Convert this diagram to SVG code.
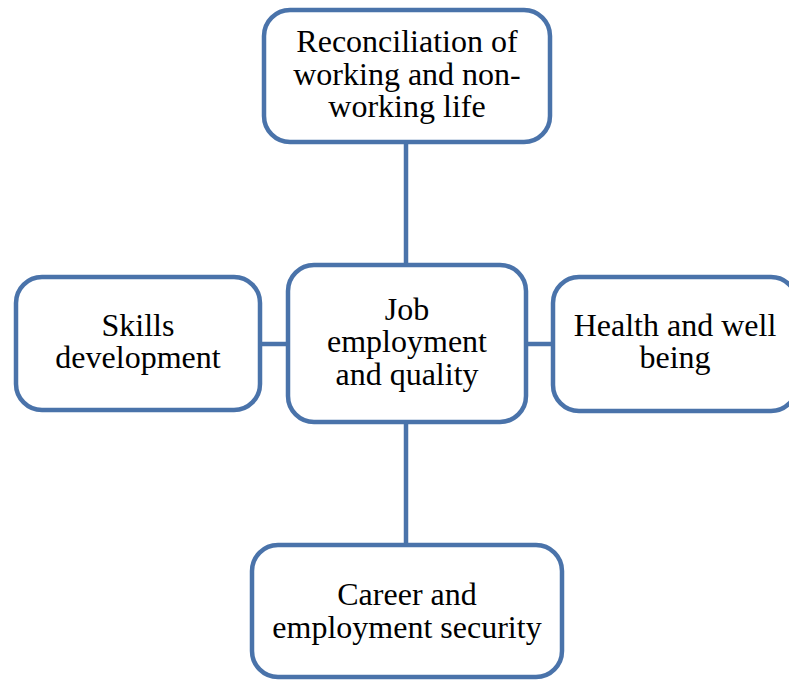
<svg xmlns="http://www.w3.org/2000/svg" width="789" height="681" viewBox="0 0 789 681">
<style>
.box{fill:#fff;stroke:#4A73AA;stroke-width:4.5}
.con{stroke:#4A73AA;stroke-width:4.5;fill:none}
text{font-family:"Liberation Serif","Times New Roman",serif;font-size:32px;fill:#000;text-anchor:middle}
</style>
<rect width="789" height="681" fill="#fff"/>
<g id="connectors">
<line class="con" x1="406" y1="142" x2="406" y2="265"/>
<line class="con" x1="406" y1="423" x2="406" y2="545"/>
<line class="con" x1="260" y1="344" x2="288" y2="344"/>
<line class="con" x1="527" y1="344" x2="553" y2="344"/>
</g>
<g id="top">
<rect class="box" x="264" y="10" width="286" height="132" rx="26"/>
<text x="407" y="52">Reconciliation of</text>
<text x="407" y="85">working and non-</text>
<text x="407" y="117">working life</text>
</g>
<g id="center">
<rect class="box" x="288" y="265" width="238" height="157" rx="26"/>
<text x="407" y="320">Job</text>
<text x="407" y="352">employment</text>
<text x="407" y="385">and quality</text>
</g>
<g id="left">
<rect class="box" x="16" y="277" width="244" height="133" rx="26"/>
<text x="138" y="336">Skills</text>
<text x="138" y="368">development</text>
</g>
<g id="right">
<rect class="box" x="553" y="277" width="244" height="134" rx="26"/>
<text x="675" y="336">Health and well</text>
<text x="675" y="368">being</text>
</g>
<g id="bottom">
<rect class="box" x="252" y="545" width="310" height="132" rx="26"/>
<text x="407" y="605">Career and</text>
<text x="407" y="638">employment security</text>
</g>
</svg>
